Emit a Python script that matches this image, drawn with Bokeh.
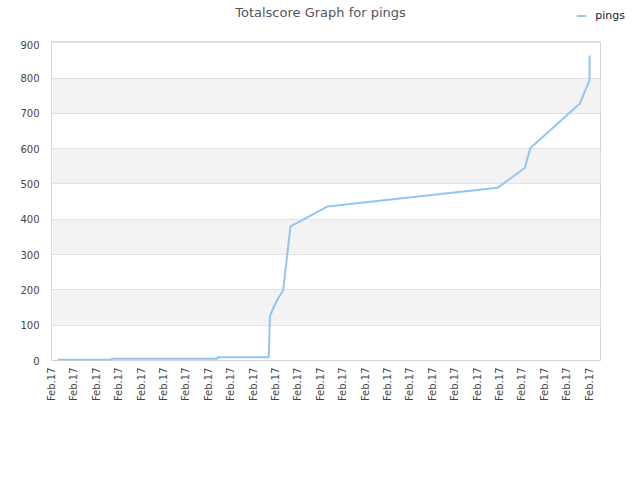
from math import pi
from bokeh.plotting import figure
from bokeh.layouts import column, row
from bokeh.models import FixedTicker, Legend, LegendItem, Range1d, Label
from bokeh.embed import file_html
from bokeh.resources import INLINE

# ---- data ----
chart_title = "Totalscore Graph for pings"
series_name = "pings"
x_tick_index = [0, 10, 20, 30, 40, 50, 60, 70, 80, 90, 100, 110, 120,
                130, 140, 150, 160, 170, 180, 190, 200, 210, 220, 230, 240]
x_tick_labels = ["Feb.17"] * 25
sample_index = [2.7, 26.8, 26.8, 74.1, 74.1, 97.0, 97.5, 99.2, 100.8, 103.4,
                106.7, 123.1, 199.1, 211.3, 213.8, 235.8, 240.2, 240.2]
totalscore = [2, 2, 5, 5, 9, 9, 125, 151, 172, 198,
              380, 436, 489, 545, 602, 727, 793, 864]
y_ticks = [0, 100, 200, 300, 400, 500, 600, 700, 800, 900]

FONT = "DejaVu Sans"
LINE_COLOR = "#94c4f5"

# ---- header strip: title + legend ----
head = figure(width=640, height=40, x_range=Range1d(0, 625), y_range=Range1d(0, 40),
              min_border_left=0, min_border_right=15, min_border_top=0, min_border_bottom=0,
              x_axis_type=None, y_axis_type=None,
              output_backend="svg", toolbar_location=None)
head.outline_line_color = None
head.xgrid.visible = False
head.ygrid.visible = False
head.background_fill_color = "white"
head.border_fill_color = "white"
head.add_layout(Label(x=320, y=28, text=chart_title, text_align="center",
                      text_baseline="middle", text_font=FONT,
                      text_font_size="13px", text_color="#555555"))
swatch = head.line([0], [-10], line_color=LINE_COLOR, line_width=2)
head.add_layout(Legend(items=[LegendItem(label=series_name, renderers=[swatch])],
                       location="top_right", padding=0, margin=0, spacing=0,
                       border_line_color=None, background_fill_alpha=0,
                       glyph_width=10, glyph_height=31, label_height=31,
                       label_standoff=9, label_text_font=FONT,
                       label_text_font_size="11px", label_text_color="#222222"),
                "center")

# ---- main chart ----
p = figure(width=640, height=440,
           x_range=Range1d(0, 245.1), y_range=Range1d(0, 903.4),
           min_border_left=51, min_border_right=40,
           min_border_top=1, min_border_bottom=120,
           output_backend="svg", toolbar_location=None)
p.background_fill_color = "white"
p.border_fill_color = "white"
p.outline_line_color = "#d4d4d4"
p.outline_line_width = 1

p.xgrid.visible = False
p.ygrid.ticker = FixedTicker(ticks=y_ticks)
p.ygrid.grid_line_color = "#e2e2e2"
p.ygrid.band_fill_color = "#f3f3f3"
p.ygrid.band_fill_alpha = 1.0

xa = p.xaxis[0]
xa.ticker = FixedTicker(ticks=x_tick_index)
xa.major_label_overrides = {t: lab for t, lab in zip(x_tick_index, x_tick_labels)}
xa.major_label_orientation = pi / 2
xa.axis_line_color = None
xa.major_tick_line_color = None
xa.minor_tick_line_color = None
xa.major_tick_out = 0
xa.major_tick_in = 0
xa.major_label_standoff = 7
xa.major_label_text_font = FONT
xa.major_label_text_font_size = "10px"
xa.major_label_text_color = "#444444"

ya = p.yaxis[0]
ya.ticker = FixedTicker(ticks=y_ticks)
ya.axis_line_color = None
ya.major_tick_line_color = None
ya.minor_tick_line_color = None
ya.major_tick_out = 0
ya.major_tick_in = 0
ya.major_label_standoff = 12
ya.major_label_text_font = FONT
ya.major_label_text_font_size = "10px"
ya.major_label_text_color = "#444444"

p.line(sample_index, totalscore, line_color=LINE_COLOR, line_width=2)

layout = column(row(head), p, spacing=0)
open("out.html", "w").write(file_html(layout, INLINE))
